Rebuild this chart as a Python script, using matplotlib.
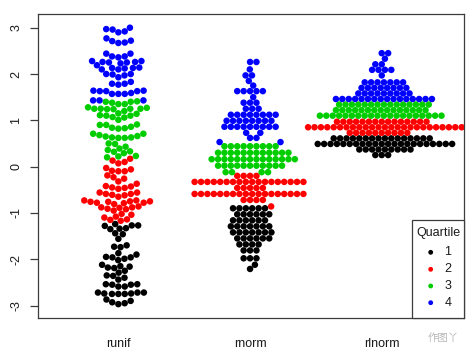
import numpy as np
import matplotlib
matplotlib.use("Agg")
import matplotlib.pyplot as plt
from matplotlib.patches import Rectangle

plt.rcParams["font.family"] = ["Liberation Sans", "DejaVu Sans"]
plt.rcParams["axes.unicode_minus"] = False

# ---------------- data ----------------
groups = ["runif", "rnorm", "rlnorm"]
quartile_labels = ["1", "2", "3", "4"]
quartile_colors = ["#000000", "#FF0000", "#00CD00", "#0000FF"]
y_ticks = [-3, -2, -1, 0, 1, 2, 3]

# runif: individual values
runif_q1 = [-1.27, -1.33, -1.35, -1.28, -1.27, -1.34, -1.24, -1.46, -1.44, -1.56,
            -1.73, -1.74, -1.70, -1.87, -1.90, -1.96, -1.99, -2.02, -1.96, -1.95,
            -2.16, -2.15, -2.19, -2.25, -2.18, -2.12, -2.29, -2.35, -2.36, -2.44,
            -2.40, -2.54, -2.54, -2.55, -2.59, -2.59, -2.55, -2.72, -2.74, -2.75,
            -2.75, -2.75, -2.74, -2.72, -2.72, -2.87, -2.93, -2.90, -2.95, -2.97]
runif_q2 = [0.17, 0.10, 0.07, 0.13, -0.09, -0.10, -0.10, -0.06, -0.03, -0.19,
            -0.23, -0.32, -0.26, -0.37, -0.43, -0.45, -0.48, -0.42, -0.46, -0.56,
            -0.59, -0.62, -0.59, -0.65, -0.56, -0.61, -0.73, -0.76, -0.78, -0.79,
            -0.73, -0.75, -0.81, -0.76, -0.78, -0.75, -0.88, -0.91, -0.88, -0.92,
            -0.89, -0.86, -1.02, -0.95, -1.04, -1.08, -1.15, -1.17, -1.14, -1.10]
runif_q3 = [1.35, 1.38, 1.35, 1.40, 1.40, 1.41, 1.20, 1.24, 1.25, 1.25,
            1.28, 1.25, 1.24, 1.27, 1.25, 1.14, 1.10, 1.07, 1.01, 1.06,
            1.10, 1.11, 1.15, 0.90, 0.83, 0.82, 0.91, 0.86, 0.84, 0.90,
            0.68, 0.65, 0.62, 0.71, 0.62, 0.63, 0.63, 0.66, 0.71, 0.50,
            0.49, 0.36, 0.33, 0.39, 0.43, 0.29, 0.32, 0.23, 0.20, 0.22]
runif_q4 = [3.00, 2.97, 2.90, 2.92, 2.96, 2.72, 2.71, 2.67, 2.68, 2.77,
            2.44, 2.38, 2.36, 2.38, 2.44, 2.26, 2.23, 2.28, 2.28, 2.25,
            2.26, 2.13, 2.19, 2.25, 2.10, 2.14, 2.12, 2.13, 2.10, 2.00,
            1.99, 1.93, 1.97, 2.00, 1.79, 1.77, 1.79, 1.83, 1.64, 1.63,
            1.63, 1.57, 1.57, 1.57, 1.59, 1.63, 1.64, 1.43, 1.43, 1.43]

# rnorm: estimated value levels and how many points sit at each level
rnorm_q1_levels = [-0.90, -1.03, -1.16, -1.29, -1.42, -1.55, -1.68, -1.81, -1.98, -2.12, -2.21]
rnorm_q1_counts = [6, 6, 6, 7, 7, 6, 4, 3, 3, 1, 1]
rnorm_q2_levels = [-0.20, -0.33, -0.46, -0.59, -0.72, -0.86]
rnorm_q2_counts = [4, 18, 5, 18, 4, 1]
rnorm_q3_levels = [0.44, 0.30, 0.16, 0.02, -0.12]
rnorm_q3_counts = [9, 12, 14, 11, 4]
rnorm_q4_levels = [2.26, 2.10, 1.97, 1.85, 1.75, 1.63, 1.50, 1.38, 1.25, 1.12, 0.99, 0.86, 0.73, 0.62, 0.53]
rnorm_q4_counts = [2, 1, 2, 1, 1, 5, 1, 3, 3, 8, 8, 9, 2, 2, 2]

# rlnorm: estimated value levels and counts
rlnorm_q1_levels = [0.61, 0.49, 0.37, 0.25]
rlnorm_q1_counts = [16, 22, 9, 3]
rlnorm_q2_levels = [0.97, 0.85, 0.73]
rlnorm_q2_counts = [15, 25, 10]
rlnorm_q3_levels = [1.34, 1.22, 1.10]
rlnorm_q3_counts = [15, 15, 20]
rlnorm_q4_levels = [2.45, 2.33, 2.21, 2.09, 1.97, 1.82, 1.70, 1.58, 1.46]
rlnorm_q4_counts = [2, 1, 2, 4, 1, 7, 8, 9, 16]

columns = [
    [runif_q1, runif_q2, runif_q3, runif_q4],
    [np.repeat(rnorm_q1_levels, rnorm_q1_counts), np.repeat(rnorm_q2_levels, rnorm_q2_counts),
     np.repeat(rnorm_q3_levels, rnorm_q3_counts), np.repeat(rnorm_q4_levels, rnorm_q4_counts)],
    [np.repeat(rlnorm_q1_levels, rlnorm_q1_counts), np.repeat(rlnorm_q2_levels, rlnorm_q2_counts),
     np.repeat(rlnorm_q3_levels, rlnorm_q3_counts), np.repeat(rlnorm_q4_levels, rlnorm_q4_counts)],
]

# ---------------- figure ----------------
W, H = 474, 358
fig = plt.figure(figsize=(W / 100, H / 100), dpi=100)
L, R, T, B = 37.5, 464.3, 14.0, 318.3
ax = fig.add_axes([L / W, 1 - B / H, (R - L) / W, (B - T) / H])
ax.set_xlim(0.386, 3.627)
ax.set_ylim(-3.276, 3.296)

edge = "#3c3c3c"
for s in ax.spines.values():
    s.set_color(edge)
    s.set_linewidth(0.9)


def swarm_offsets(ypx, d):
    """beeswarm 'swarm' layout (ascending priority), returns x offsets in px"""
    ypx = np.asarray(ypx, float)
    order = np.argsort(ypx, kind="stable")
    xs = np.zeros(len(ypx))
    px, py = [], []
    for i in order:
        yi = ypx[i]
        best = 0.0
        if px:
            ax_ = np.array(px)
            ay_ = np.array(py)
            dy = np.abs(ay_ - yi)
            near = dy < d
            if near.any():
                nx = ax_[near]
                ndy = dy[near]
                off = np.sqrt(d * d - ndy ** 2)
                cand = np.concatenate([[0.0], nx + off, nx - off])
                good = [c for c in cand
                        if np.all((nx - c) ** 2 + ndy ** 2 >= d * d * 0.999)]
                best = min(good, key=abs)
        xs[i] = best
        px.append(best)
        py.append(yi)
    return xs


fig.canvas.draw()
x_scale = ax.transData.transform([[1, 0]])[0][0] - ax.transData.transform([[0, 0]])[0][0]
y_scale = ax.transData.transform([[0, 1]])[0][1] - ax.transData.transform([[0, 0]])[0][1]
d = 6.4

for gi, col in enumerate(columns):
    vals = np.concatenate([np.asarray(v, float) for v in col])
    cols = np.concatenate([[quartile_colors[q]] * len(v) for q, v in enumerate(col)])
    offs = swarm_offsets(vals * y_scale, d)
    xx = (gi + 1) + offs / x_scale
    ax.scatter(xx, vals, s=22, c=list(cols), linewidths=0, zorder=3)

ax.set_xticks([1, 2, 3])
ax.set_xticklabels(groups, fontsize=9, color="#1a1a1a")
ax.tick_params(axis="x", length=0, pad=14)
ax.set_yticks(y_ticks)
ax.set_yticklabels([str(t) for t in y_ticks], fontsize=9, color="#1a1a1a",
                   rotation=90, va="center")
ax.tick_params(axis="y", length=5.8, width=0.9, color=edge, pad=5)

# ---------------- legend (bottom-right), drawn in pixel coordinates ----------------
leg_ax = fig.add_axes([0, 0, 1, 1], facecolor="none", zorder=10)
leg_ax.set_xlim(0, W)
leg_ax.set_ylim(H, 0)
leg_ax.axis("off")
leg_ax.add_patch(Rectangle((412.3, 220.0), R - 412.3, B - 220.0, facecolor="white",
                           edgecolor=edge, linewidth=0.9, zorder=1))
leg_ax.text(438.5, 233.3, "Quartile", fontsize=9, ha="center", va="center",
            color="#1a1a1a", zorder=2)
item_y = [252.3, 269.3, 286.0, 302.7]
for lab, yy in zip(quartile_labels, item_y):
    leg_ax.text(444.5, yy, lab, fontsize=9, ha="left", va="center", color="#1a1a1a", zorder=2)
leg_ax.scatter([430.7] * 4, item_y, s=12, c=quartile_colors, linewidths=0, zorder=3)

# watermark
leg_ax.text(443, 338, "作图丫", fontsize=7.5, ha="center", va="center",
            color="#b8b8b8", family=["Noto Sans CJK SC", "DejaVu Sans"])

fig.savefig("out.png", dpi=100)
